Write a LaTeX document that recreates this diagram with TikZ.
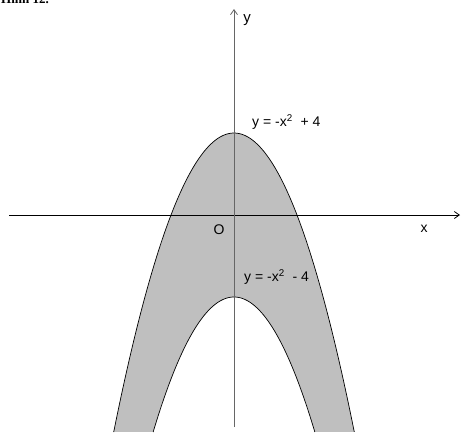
\documentclass[tikz,border=0pt]{standalone}
\usepackage{fontspec}
\setmainfont{Liberation Sans}
\newfontfamily\capfont{Liberation Serif}
\usetikzlibrary{arrows.meta}
\begin{document}
\begin{tikzpicture}[x=1pt,y=-1pt,
  lbl/.style={inner sep=0pt,font=\fontsize{14}{16}\selectfont},
  axis/.style={line width=0.8pt,-{Straight Barb[length=5pt,width=7pt]}},
  curve/.style={line width=0.7pt,black}]
\useasboundingbox (0,0) rectangle (461,432);
% caption cut off at top
\node[anchor=base west,inner sep=0pt,font=\capfont\bfseries\fontsize{13}{15}\selectfont] (cap) at (1,3) {Hình 12.};
% shaded region
\fill[black!25]
  plot[domain=-3.819:3.819,samples=120,smooth] ({234+31.5*\x},{215-20.5*(4-\x*\x)})
  -- plot[domain=2.566:-2.566,samples=120,smooth] ({234+31.5*\x},{215-20.5*(-4-\x*\x)})
  -- cycle;
\draw[curve] plot[domain=-3.819:3.819,samples=120,smooth] ({234+31.5*\x},{215-20.5*(4-\x*\x)});
\draw[curve] plot[domain=-2.566:2.566,samples=120,smooth] ({234+31.5*\x},{215-20.5*(-4-\x*\x)});
% axes
\coordinate (xs) at (9,215);
\coordinate (xe) at (460,215);
\coordinate (ys) at (234,427);
\coordinate (ye) at (234,9);
\draw[axis,black] (xs) -- (xe);
\draw[axis,black!60] (ys) -- (ye);
% labels
\node[lbl,font=\fontsize{15}{17}\selectfont] (ylab) at (247,20) {y};
\node[lbl] (xlab) at (424,229) {x};
\node[lbl] (olab) at (219,230) {O};
\node[lbl,anchor=west] (f1) at (252,122) {y = -x\textsuperscript{2}\ \ + 4};
\node[lbl,anchor=west] (f2) at (244,277) {y = -x\textsuperscript{2}\ \ - 4};
\end{tikzpicture}
\end{document}
